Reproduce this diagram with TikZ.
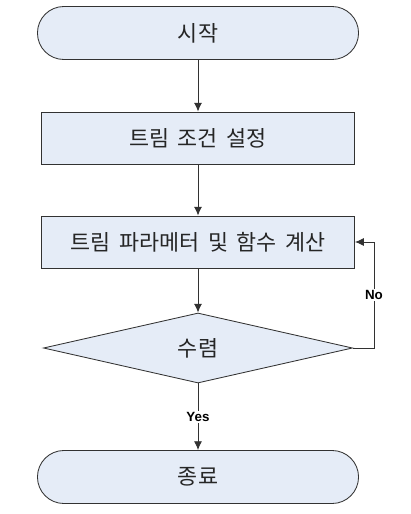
\documentclass[tikz,border=0pt]{standalone}
\usepackage{fontspec}
\setmainfont[WordSpace=1.8]{Noto Sans CJK KR}
\newfontfamily\latinbold{Liberation Sans}
\usetikzlibrary{shapes.geometric,arrows.meta}
\definecolor{boxfill}{RGB}{229,236,247}
\definecolor{boxline}{RGB}{50,50,50}

\begin{document}
\begin{tikzpicture}[>={Latex[length=2.2mm,width=2mm]}, x=0.025cm, y=-0.025cm,
  every path/.style={draw=boxline, semithick},
  terminal/.style={draw=boxline, fill=boxfill, rounded corners=0.66cm, text=black!85,
    minimum width=8.025cm, minimum height=1.325cm, font=\fontsize{15.5}{18}\selectfont},
  process/.style={draw=boxline, fill=boxfill, text=black!85,
    minimum width=7.825cm, minimum height=1.3cm, font=\fontsize{15.5}{18}\selectfont},
  decision/.style={diamond, draw=boxline, fill=boxfill, inner sep=0pt, text=black!85,
    minimum width=7.725cm, minimum height=1.75cm, font=\fontsize{15.5}{18}\selectfont},
  answer/.style={fill=white, draw=none, inner sep=1pt, font=\latinbold\bfseries\fontsize{9.5}{11}\selectfont}]
\useasboundingbox[draw=none] (0,0) rectangle (411,514);
\node[terminal] (start) at (198, 33) {시작};
\node[process] (trim) at (198, 138) {트림 조건 설정};
\node[process] (calc) at (198, 242) {트림 파라메터 및 함수 계산};
\node[decision] (check) at (198, 348) {수렴};
\node[terminal] (stop) at (198, 477) {종료};
\coordinate (back) at (374, 348);
\draw[->] (start) -- (trim);
\draw[->] (trim) -- (calc);
\draw[->] (calc) -- (check);
\draw[->] (check) -- node[answer] {Yes} (stop);
\draw[->] (check.east) -- (back) |- node[answer, pos=0.25] {No} (calc.east);
\end{tikzpicture}
\end{document}
